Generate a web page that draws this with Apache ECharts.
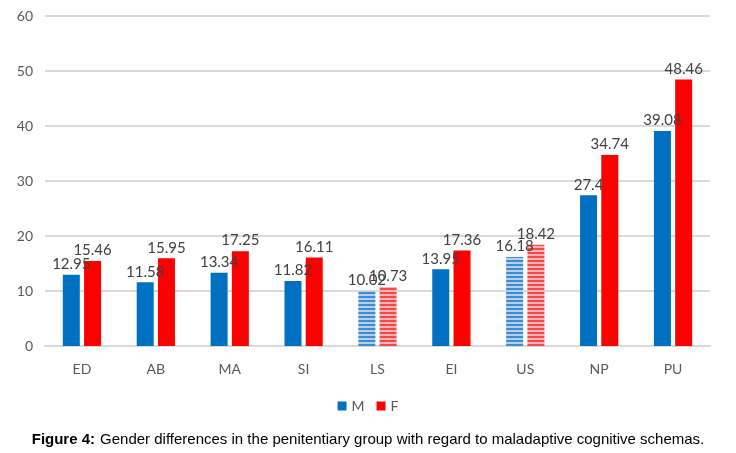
<!DOCTYPE html>
<html><head><meta charset="utf-8">
<script src="https://cdn.jsdelivr.net/npm/echarts@6/dist/echarts.min.js"></script>
<style>html,body{margin:0;padding:0;background:#fff}#c{width:736px;height:453px}</style>
</head><body><div id="c"></div>
<script>
const categories = ['ED','AB','MA','SI','LS','EI','US','NP','PU'];
const maleValues = [12.95, 11.58, 13.34, 11.82, 10.02, 13.95, 16.18, 27.4, 39.08];
const femaleValues = [15.46, 15.95, 17.25, 16.11, 10.73, 17.36, 18.42, 34.74, 48.46];
const stripedCategories = ['LS','US'];
const yTicks = [0, 10, 20, 30, 40, 50, 60];

function stripe(c1, c2) {
  const cv = document.createElement('canvas');
  cv.width = 4; cv.height = 4;
  const ctx = cv.getContext('2d');
  ctx.fillStyle = c2; ctx.fillRect(0,0,4,4);
  ctx.fillStyle = c1; ctx.fillRect(0,0,4,2);
  return {image: cv, repeat: 'repeat'};
}
const blue = '#0070C0', red = '#FF0000';
const blueStripe = stripe('#3D8BD0', '#B5D0EC');
const redStripe = stripe('#F24A4A', '#F9B5B5');

function mk(vals, col, pat) {
  return vals.map((v, i) => ({
    value: v,
    itemStyle: {color: stripedCategories.includes(categories[i]) ? pat : col}
  }));
}
const labelCfg = {show: true, position: 'top', distance: 3, color: '#404040', fontSize: 15, fontFamily: 'Lato, "Open Sans", sans-serif'};

const chart = echarts.init(document.getElementById('c'));
chart.setOption({
  animation: false,
  grid: {left: 45, right: 26, top: 16, bottom: 107, containLabel: false},
  title: {
    text: '{b|Figure 4:} {n|Gender differences in the penitentiary group with regard to maladaptive cognitive schemas.}',
    left: 'center', top: 426,
    textStyle: {fontWeight: 'normal', rich: {
      b: {fontWeight: 'bold', fontSize: 15, fontFamily: 'Liberation Sans, Arial, sans-serif', color: '#000'},
      n: {fontWeight: 'normal', fontSize: 15, fontFamily: 'Liberation Sans, Arial, sans-serif', color: '#000'}
    }}
  },
  legend: {
    data: ['M','F'], top: 394, left: 'center', itemWidth: 9, itemHeight: 9, itemGap: 12,
    icon: 'rect',
    textStyle: {color: '#595959', fontSize: 14, fontFamily: 'Lato, sans-serif', padding: [6,0,0,0]}
  },
  xAxis: {
    type: 'category', data: categories,
    axisLine: {lineStyle: {color: '#D9D9D9', width: 2}},
    axisTick: {show: false},
    axisLabel: {color: '#595959', fontSize: 14, fontFamily: 'Lato, sans-serif', margin: 16}
  },
  yAxis: {
    type: 'value', min: yTicks[0], max: yTicks[yTicks.length-1], interval: 10,
    axisLine: {show: false}, axisTick: {show: false},
    splitLine: {lineStyle: {color: '#D9D9D9', width: 2}},
    axisLabel: {color: '#595959', fontSize: 14, fontFamily: 'Lato, sans-serif', margin: 12}
  },
  series: [
    {name: 'M', type: 'bar', data: mk(maleValues, blue, blueStripe), itemStyle: {color: blue},
     barWidth: 17, barGap: '25%', label: labelCfg},
    {name: 'F', type: 'bar', data: mk(femaleValues, red, redStripe), itemStyle: {color: red},
     barWidth: 17, label: labelCfg}
  ]
});
</script></body></html>
